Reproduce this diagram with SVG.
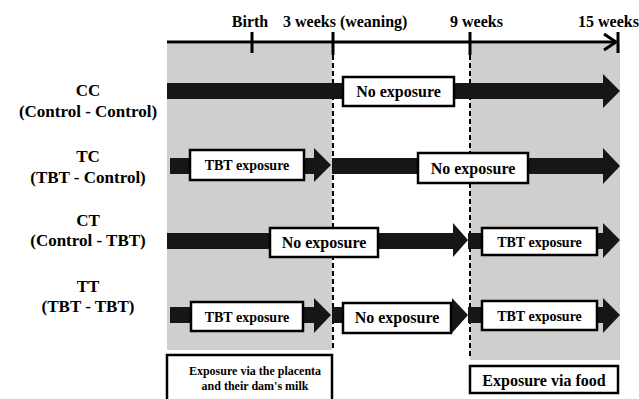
<svg xmlns="http://www.w3.org/2000/svg" width="639" height="399" viewBox="0 0 639 399">
<style>
text{font-family:"Liberation Serif","Times New Roman","DejaVu Serif","Noto Serif",Times,serif;font-weight:bold;fill:#000}
.lbl{font-size:17px;text-anchor:middle}
.top{font-size:16px}
.bx{fill:#fff;stroke:#000;stroke-width:2.5}
.t16{font-size:16px;text-anchor:middle}
.t14{font-size:14px;text-anchor:middle}
.arr{fill:#161616}
.dash{stroke:#000;stroke-width:2;stroke-dasharray:5 3;fill:none}
.ax{stroke:#000;stroke-width:3;fill:none}
</style>
<rect width="639" height="399" fill="#fff"/>
<g id="shading">
<rect x="167" y="44" width="165" height="306" fill="#cfcfcf"/>
<rect x="470" y="44" width="150" height="316" fill="#cfcfcf"/>
</g>
<g id="timeline">
<line class="ax" x1="167" y1="42" x2="616" y2="42"/>
<polyline class="ax" points="604,34 616,42 604,50"/>
<line class="ax" x1="252" y1="32" x2="252" y2="53"/>
<line class="ax" x1="333" y1="32" x2="333" y2="55"/>
<line class="ax" x1="470" y1="32" x2="470" y2="55"/>
<line class="ax" x1="618" y1="32" x2="618" y2="53"/>
<text class="top" x="250" y="27" text-anchor="middle">Birth</text>
<text class="top" x="283" y="27">3 weeks (weaning)</text>
<text class="top" x="450" y="27">9 weeks</text>
<text class="top" x="578" y="27">15 weeks</text>
<line class="dash" x1="333" y1="55" x2="333" y2="350"/>
<line class="dash" x1="470" y1="55" x2="470" y2="356"/>
</g>
<g id="groups">
<text class="lbl" x="88" y="96">CC</text>
<text class="lbl" x="88" y="117">(Control - Control)</text>
<text class="lbl" x="88" y="162">TC</text>
<text class="lbl" x="88" y="183">(TBT - Control)</text>
<text class="lbl" x="88" y="226">CT</text>
<text class="lbl" x="88" y="246">(Control - TBT)</text>
<text class="lbl" x="88" y="292">TT</text>
<text class="lbl" x="88" y="312">(TBT - TBT)</text>
</g>
<g id="connectors">
<polygon class="arr" points="167,83 603,83 603,74 620,91 603,108 603,99 167,99"/>
<polygon class="arr" points="170,158 314,158 314,148 331,165 314,182 314,174 170,174"/>
<polygon class="arr" points="332,158 603,158 603,148 620,166 603,184 603,174 332,174"/>
<polygon class="arr" points="167,233 453,233 453,223 468,240 453,257 453,249 167,249"/>
<polygon class="arr" points="468,233 603,233 603,223 620,240 603,258 603,249 468,249"/>
<polygon class="arr" points="170,307 314,307 314,298 331,315 314,333 314,323 170,323"/>
<polygon class="arr" points="332,307 452,307 452,298 468,315 452,333 452,323 332,323"/>
<polygon class="arr" points="468,307 603,307 603,298 620,315 603,333 603,323 468,323"/>
</g>
<g id="cc-none"><rect class="bx" x="343" y="77" width="111" height="29"/><text class="t16" x="398.5" y="97">No exposure</text></g>
<g id="tc-tbt"><rect class="bx" x="190" y="150" width="114" height="30"/><text class="t14" x="247" y="170">TBT exposure</text></g>
<g id="tc-none"><rect class="bx" x="418" y="153" width="110" height="30"/><text class="t16" x="473" y="173.5">No exposure</text></g>
<g id="ct-none"><rect class="bx" x="270" y="228" width="108" height="29"/><text class="t16" x="324" y="248">No exposure</text></g>
<g id="ct-tbt"><rect class="bx" x="482" y="228" width="115" height="27"/><text class="t14" x="539.5" y="246.5">TBT exposure</text></g>
<g id="tt-tbt1"><rect class="bx" x="191" y="302" width="112" height="29"/><text class="t14" x="247" y="321.5">TBT exposure</text></g>
<g id="tt-none"><rect class="bx" x="343" y="303" width="108" height="30"/><text class="t16" x="397" y="323">No exposure</text></g>
<g id="tt-tbt2"><rect class="bx" x="482" y="301" width="115" height="29"/><text class="t14" x="539.5" y="320.5">TBT exposure</text></g>
<g id="placenta"><rect class="bx" x="167" y="355" width="165" height="50"/>
<text x="255" y="375" font-size="12" text-anchor="middle">Exposure via the placenta</text>
<text x="255" y="390" font-size="12" text-anchor="middle">and their dam's milk</text></g>
<g id="food"><rect class="bx" x="470" y="366" width="148" height="27"/><text class="t16" x="544" y="386">Exposure via food</text></g>
</svg>
